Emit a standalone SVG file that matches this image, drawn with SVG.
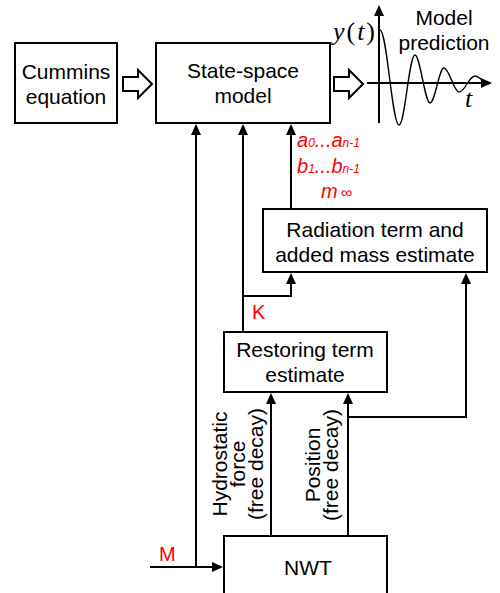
<svg xmlns="http://www.w3.org/2000/svg" width="500" height="593" viewBox="0 0 500 593">
<style>
.box{fill:#fff;stroke:#000;stroke-width:2}
.ln{fill:none;stroke:#000;stroke-width:2}
.t{font-family:"Liberation Sans",Arial,sans-serif;font-size:21px;fill:#000;text-anchor:middle}
.red{font-family:"Liberation Sans",Arial,sans-serif;font-size:20px;fill:#ff0000;font-style:italic}
.lab{font-family:"Liberation Sans",Arial,sans-serif;font-size:20px;fill:#ff0000}
.math{font-family:"Liberation Serif","Times New Roman",serif;font-size:26px;fill:#000}
.hol{fill:#fff;stroke:#000;stroke-width:2;stroke-linejoin:miter}
</style>
<defs>
<marker id="ah" markerUnits="userSpaceOnUse" markerWidth="11" markerHeight="10" refX="5" refY="5" orient="auto">
<path d="M0,0 L11,5 L0,10 z" fill="#000"/>
</marker>
</defs>
<rect width="500" height="593" fill="#fff"/>

<g id="connectors">
<path class="ln" d="M150,567 H217" marker-end="url(#ah)"/>
<path class="ln" d="M196,567 V130" marker-end="url(#ah)"/>
<path class="ln" d="M243,332 V130" marker-end="url(#ah)"/>
<path class="ln" d="M243,296 H291 V279" marker-end="url(#ah)"/>
<path class="ln" d="M291,209 V130" marker-end="url(#ah)"/>
<path class="ln" d="M271,536 V399" marker-end="url(#ah)"/>
<path class="ln" d="M348,536 V399" marker-end="url(#ah)"/>
<path class="ln" d="M348,417 H466 V279" marker-end="url(#ah)"/>
<polygon class="hol" points="123,77 138,77 138,70 152,84 138,98 138,91 123,91"/>
<polygon class="hol" points="334,77 349,77 349,70 363,84 349,98 349,91 334,91"/>
</g>

<g id="cummins">
<rect class="box" x="15" y="43" width="102" height="80"/>
<text class="t" x="66" y="79">Cummins</text>
<text class="t" x="66" y="104">equation</text>
</g>

<g id="statespace">
<rect class="box" x="156" y="43" width="174" height="80"/>
<text class="t" x="243" y="78">State-space</text>
<text class="t" x="243" y="103">model</text>
</g>

<g id="radiation">
<rect class="box" x="263" y="209" width="224" height="63"/>
<text class="t" x="375" y="237">Radiation term and</text>
<text class="t" x="375" y="262">added mass estimate</text>
</g>

<g id="restoring">
<rect class="box" x="224" y="332" width="163" height="60"/>
<text class="t" x="305" y="357">Restoring term</text>
<text class="t" x="305" y="382">estimate</text>
</g>

<g id="nwt">
<rect class="box" x="224" y="536" width="163" height="80"/>
<text class="t" x="308" y="575">NWT</text>
</g>

<g id="plot">
<path class="ln" d="M379,123 V11" marker-end="url(#ah)"/>
<path class="ln" d="M367,83 H486" marker-end="url(#ah)"/>
<path fill="none" stroke="#000" stroke-width="1.4" d="M380,30 C387,30 392,125 399,125 C405,125 409,55 415,55 C420,55 425,103 430,103 C435,103 439,68 444,68 C449,68 454,92 459,92 C465,92 469,76 475,76 C480,76 484,84 488,84"/>
<text class="math" x="333" y="40" textLength="42" lengthAdjust="spacing"><tspan font-style="italic">y</tspan>(<tspan font-style="italic">t</tspan>)</text>
<text class="math" x="465" y="107" font-style="italic">t</text>
<text class="t" x="444" y="25">Model</text>
<text class="t" x="444" y="50">prediction</text>
</g>

<g id="labels">
<text class="red" x="297" y="147">a<tspan font-size="12">0</tspan>...a<tspan font-size="12">n-1</tspan></text>
<text class="red" x="297" y="173">b<tspan font-size="12">1</tspan>...b<tspan font-size="12">n-1</tspan></text>
<text class="red" x="321" y="198">m<tspan font-size="16" dx="3">∞</tspan></text>
<text class="lab" x="252" y="319">K</text>
<text class="lab" x="159" y="561">M</text>
<g class="t">
<text class="t" transform="translate(227,464) rotate(-90)">Hydrostatic</text>
<text class="t" transform="translate(245,464) rotate(-90)">force</text>
<text class="t" transform="translate(263,464) rotate(-90)">(free decay)</text>
<text class="t" transform="translate(320,465) rotate(-90)">Position</text>
<text class="t" transform="translate(338,465) rotate(-90)">(free decay)</text>
</g>
</g>
</svg>
